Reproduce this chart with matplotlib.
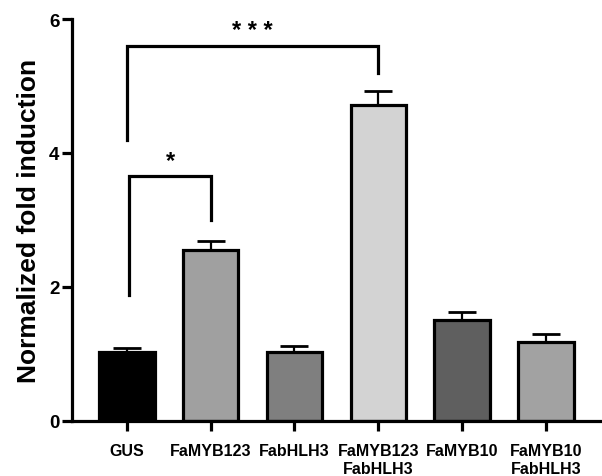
import matplotlib.pyplot as plt
import numpy as np

plt.rcParams['font.family'] = ['Liberation Sans', 'DejaVu Sans']
plt.rcParams['font.weight'] = 'bold'

groups = ['GUS', 'FaMYB123', 'FabHLH3', 'FaMYB123\nFabHLH3', 'FaMYB10', 'FaMYB10\nFabHLH3']
means = [1.02, 2.55, 1.03, 4.71, 1.50, 1.18]
sem = [0.07, 0.13, 0.08, 0.21, 0.13, 0.12]
colors = ['#000000', '#a0a0a0', '#7f7f7f', '#d3d3d3', '#5f5f5f', '#a2a2a2']

# significance brackets: (x1, x2, y top, left leg bottom, right leg bottom, label)
brackets = [
    (0, 3, 5.60, 4.20, 5.20, '* * *'),
    (0.03, 1, 3.66, 1.87, 3.00, '*'),
]

fig = plt.figure(figsize=(6.02, 4.77), dpi=100)
ax = fig.add_axes([0.1196, 0.116, 0.8804, 0.842])

x = np.arange(len(groups))
ax.bar(x, means, width=0.66, color=colors, edgecolor='black', linewidth=2.3, zorder=2)
ax.errorbar(x, means, yerr=[np.zeros(len(sem)), sem], fmt='none', ecolor='black',
            elinewidth=1.6, capsize=10, capthick=2, zorder=1)

for x1, x2, ytop, yl, yr, lab in brackets:
    ax.plot([x1, x1, x2, x2], [yl, ytop, ytop, yr], color='black', lw=2.3,
            solid_joinstyle='miter', clip_on=False)
    ax.text((x1 + x2) / 2, ytop + 0.05, lab, ha='center', va='bottom',
            fontsize=17, fontweight='bold')

ax.set_xlim(-0.655, 5.67)
ax.set_ylim(0, 6)
ax.set_yticks([0, 2, 4, 6])
ax.set_xticks(x)
ax.set_xticklabels(groups, fontsize=11.5, fontweight='bold', linespacing=1.3)
ax.tick_params(axis='y', labelsize=13.5, width=2.3, length=7, pad=2)
ax.tick_params(axis='x', width=2.3, length=7, pad=9)
for lbl in ax.get_yticklabels():
    lbl.set_fontweight('bold')

ax.set_ylabel('Normalized fold induction', fontsize=19, fontweight='bold', labelpad=6)

ax.spines['top'].set_visible(False)
ax.spines['right'].set_visible(False)
ax.spines['left'].set_linewidth(2.3)
ax.spines['bottom'].set_linewidth(2.3)

plt.savefig('out.png', dpi=100)
